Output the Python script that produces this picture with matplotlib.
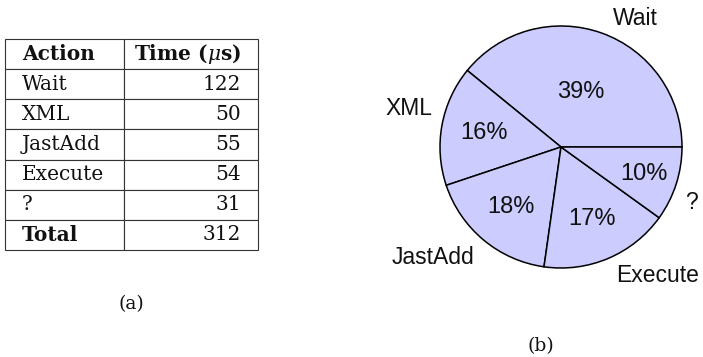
import matplotlib
matplotlib.use("Agg")
import matplotlib.pyplot as plt
import numpy as np

# Timing breakdown of one request
actions = ["Wait", "XML", "JastAdd", "Execute", "?"]
times_us = [122, 50, 55, 54, 31]
total_us = sum(times_us)
header = ["Action", "Time ($\\mu$s)"]

# Layout/style settings
fill_color = "#ccccff"
pct_dist = [0.48, 0.65, 0.65, 0.65, 0.72]
label_angle = [60, 165.7, 220.7, 307, 336.7]
label_dist = [1.23, 1.30, 1.40, 1.33, 1.17]

W, H = 703, 357
fig = plt.figure(figsize=(W / 100, H / 100), dpi=100)
plt.rcParams["mathtext.fontset"] = "dejavuserif"

# ---- (a) table ----
tax = fig.add_axes([0, 0, 1, 1])
tax.set_axis_off()
tax.set_xlim(0, 1)
tax.set_ylim(0, 1)

cell_text = [[a, str(t)] for a, t in zip(actions, times_us)]
cell_text.append(["Total", str(total_us)])
tb_left, tb_right, tb_top, tb_bot = 5, 258, 39, 250
tbl = tax.table(
    cellText=cell_text,
    colLabels=header,
    colWidths=[119, 134],
    bbox=[tb_left / W, 1 - tb_bot / H, (tb_right - tb_left) / W, (tb_bot - tb_top) / H],
)
tbl.auto_set_font_size(False)
n_rows = len(cell_text) + 1
for (r, c), cell in tbl.get_celld().items():
    cell.set_edgecolor("#333333")
    cell.set_linewidth(0.8)
    cell.set_facecolor("white")
    txt = cell.get_text()
    txt.set_fontfamily("DejaVu Serif")
    txt.set_fontsize(14.5)
    txt.set_color("#111111")
    if c == 0:
        cell._loc = "left"
        txt.set_horizontalalignment("left")
        cell.PAD = 17 / 119
    else:
        cell._loc = "right"
        txt.set_horizontalalignment("right")
        cell.PAD = 17 / 134
    if r == 0 or (r == n_rows - 1 and c == 0):
        txt.set_fontweight("bold")

fig.text(131 / W, 1 - 304 / H, "(a)", family="DejaVu Serif", fontsize=13.5,
         ha="center", va="center", color="#111111")

# ---- (b) pie chart ----
cx, cy, rad = 561, 147, 121
x0, x1 = 370, W
pax = fig.add_axes([x0 / W, 0, (x1 - x0) / W, 1])

wedges, _, pcts = pax.pie(
    times_us,
    startangle=0,
    counterclock=True,
    colors=[fill_color] * len(times_us),
    autopct="%.0f%%",
    wedgeprops=dict(edgecolor="black", linewidth=1.1),
    textprops=dict(family="Liberation Sans", fontsize=17, color="#111111"),
    radius=1,
    frame=True,
)
pax.set_axis_off()
pax.set_xlim((x0 - cx) / rad, (x1 - cx) / rad)
pax.set_ylim(-(H - cy) / rad, cy / rad)
pax.set_aspect("auto")

for w, t, d in zip(wedges, pcts, pct_dist):
    mid = np.deg2rad((w.theta1 + w.theta2) / 2)
    t.set_position((d * np.cos(mid), d * np.sin(mid)))
    t.set_ha("center")
    t.set_va("center")

for name, ang, d in zip(actions, label_angle, label_dist):
    a = np.deg2rad(ang)
    pax.text(d * np.cos(a), d * np.sin(a), name, family="Liberation Sans",
             fontsize=16.5, ha="center", va="center", color="#111111")

fig.text(541 / W, 1 - 346 / H, "(b)", family="DejaVu Serif", fontsize=13.5,
         ha="center", va="center", color="#111111")

fig.savefig("out.png", dpi=100)
